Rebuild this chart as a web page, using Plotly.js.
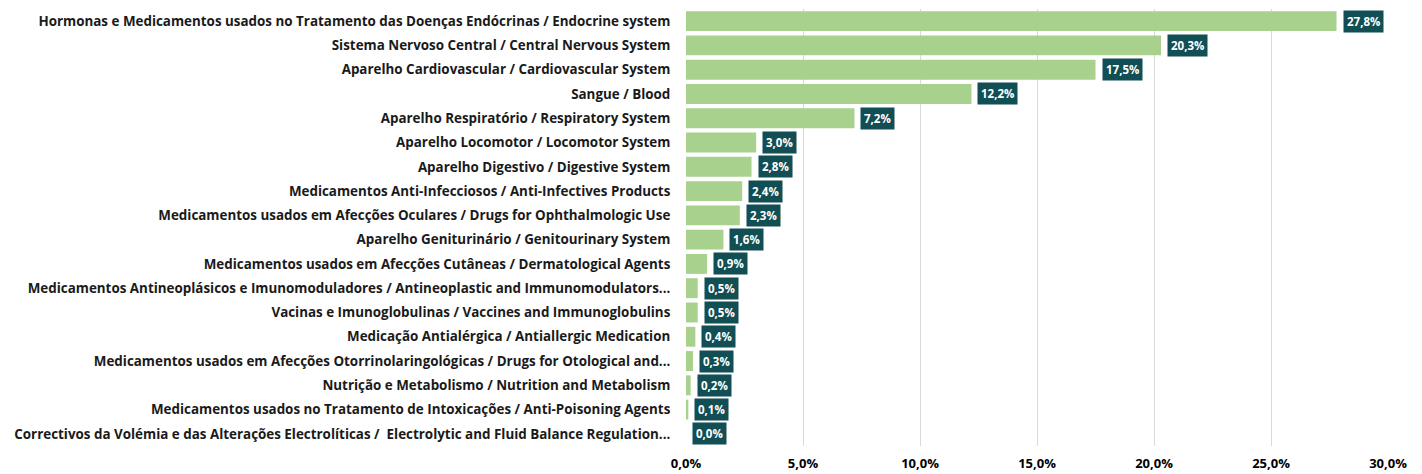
<!DOCTYPE html>
<html>
<head>
<meta charset="utf-8">
<script src="https://cdn.plot.ly/plotly-3.0.1.min.js"></script>
<style>html,body{margin:0;padding:0;background:#fff;}#chart{width:1422px;height:474px;}</style>
</head>
<body>
<div id="chart"></div>
<script>
const categories = [
  "Hormonas e Medicamentos usados no Tratamento das Doenças Endócrinas / Endocrine system",
  "Sistema Nervoso Central / Central Nervous System",
  "Aparelho Cardiovascular / Cardiovascular System",
  "Sangue / Blood",
  "Aparelho Respiratório / Respiratory System",
  "Aparelho Locomotor / Locomotor System",
  "Aparelho Digestivo / Digestive System",
  "Medicamentos Anti-Infecciosos / Anti-Infectives Products",
  "Medicamentos usados em Afecções Oculares / Drugs for Ophthalmologic Use",
  "Aparelho Geniturinário / Genitourinary System",
  "Medicamentos usados em Afecções Cutâneas / Dermatological Agents",
  "Medicamentos Antineoplásicos e Imunomoduladores / Antineoplastic and Immunomodulators...",
  "Vacinas e Imunoglobulinas / Vaccines and Immunoglobulins",
  "Medicação Antialérgica / Antiallergic Medication",
  "Medicamentos usados em Afecções Otorrinolaringológicas / Drugs for Otological and...",
  "Nutrição e Metabolismo / Nutrition and Metabolism",
  "Medicamentos usados no Tratamento de Intoxicações / Anti-Poisoning Agents",
  "Correctivos da Volémia e das Alterações Electrolíticas /  Electrolytic and Fluid Balance Regulation..."
];
const values = [27.8, 20.3, 17.5, 12.2, 7.2, 3.0, 2.8, 2.4, 2.3, 1.6, 0.9, 0.5, 0.5, 0.4, 0.3, 0.2, 0.1, 0.0];
const valueLabels = ["27,8%","20,3%","17,5%","12,2%","7,2%","3,0%","2,8%","2,4%","2,3%","1,6%","0,9%","0,5%","0,5%","0,4%","0,3%","0,2%","0,1%","0,0%"];
const tickVals = [0, 5, 10, 15, 20, 25, 30];
const tickText = ["0,0%","5,0%","10,0%","15,0%","20,0%","25,0%","30,0%"];

const FONT = "Open Sans, Noto Sans, DejaVu Sans, sans-serif";

const trace = {
  type: 'bar',
  orientation: 'h',
  y: categories,
  x: values,
  marker: {color: '#a9d18e'},
  hoverinfo: 'none'
};

const annotations = categories.map((c, i) => ({
  x: values[i],
  y: c,
  xref: 'x',
  yref: 'y',
  text: '<b>' + valueLabels[i] + '</b>',
  showarrow: false,
  xanchor: 'left',
  yanchor: 'middle',
  xshift: 6,
  bgcolor: '#124f54',
  borderpad: 3,
  font: {family: FONT, size: 11.5, color: '#ffffff'}
}));

const layout = {
  width: 1422,
  height: 474,
  margin: {l: 686, r: 34, t: 9, b: 28},
  paper_bgcolor: '#ffffff',
  plot_bgcolor: '#ffffff',
  bargap: 0.18,
  showlegend: false,
  xaxis: {
    range: [0, 30],
    tickvals: tickVals,
    ticktext: tickText,
    showgrid: true,
    gridcolor: '#d9d9d9',
    gridwidth: 1,
    zeroline: false,
    showline: false,
    ticks: 'outside',
    ticklen: 5,
    tickcolor: 'rgba(0,0,0,0)',
    tickfont: {family: FONT, size: 13, color: '#000000', weight: 'bold'},
    fixedrange: true
  },
  yaxis: {
    autorange: 'reversed',
    type: 'category',
    showgrid: false,
    zeroline: false,
    showline: false,
    ticks: 'outside',
    ticklen: 12,
    tickcolor: 'rgba(0,0,0,0)',
    tickfont: {family: FONT, size: 13.4, color: '#1a1a1a', weight: 'bold'},
    fixedrange: true
  },
  annotations: annotations
};

Plotly.newPlot('chart', [trace], layout, {displayModeBar: false, staticPlot: true});
</script>
</body>
</html>
